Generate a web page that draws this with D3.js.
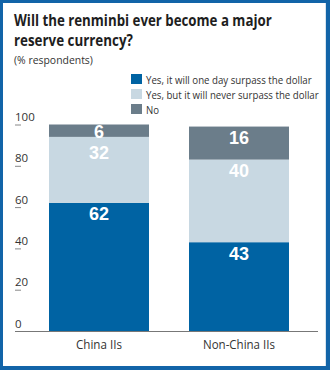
<!DOCTYPE html>
<html><head><meta charset="utf-8">
<script src="https://cdn.jsdelivr.net/npm/d3@7"></script>
<style>html,body{margin:0;padding:0;background:#fff;}svg{display:block;}</style>
</head><body>
<svg id="c" width="330" height="370"></svg>
<script>
const categories = ["China IIs", "Non-China IIs"];
const seriesNames = ["Yes, it will one day surpass the dollar", "Yes, but it will never surpass the dollar", "No"];
const surpass = [62, 43];
const neverSurpass = [32, 40];
const no = [6, 16];
const yTicks = [0, 20, 40, 60, 80, 100];
const colors = ["#0063a3", "#c8d8e2", "#6b7d8a"];

const svg = d3.select("#c");
const W = 330, H = 370;
svg.append("rect").attr("x",0).attr("y",0).attr("width",W).attr("height",H).attr("fill","#1264a8");
svg.append("rect").attr("x",3).attr("y",3).attr("width",323).attr("height",363).attr("fill","#fff");
svg.append("line").attr("x1",325.5).attr("x2",325.5).attr("y1",3).attr("y2",366).attr("stroke","#d8e4ee").attr("stroke-width",1);

const font = "'Open Sans', 'Noto Sans', sans-serif";
// place text at (x,y), horizontally condensed to target width w
function fitText(parent, x, y, w, anchor, str, attrs){
  const g = parent.append("g");
  const t = g.append("text").attr("x",0).attr("y",0).text(str);
  Object.entries(attrs).forEach(([k,v])=>t.attr(k,v));
  const nat = t.node().getComputedTextLength();
  const s = Math.min(1, w/nat);
  const dx = anchor==="middle" ? -nat*s/2 : 0;
  g.attr("transform",`translate(${x+dx},${y}) scale(${s},1)`);
  return t;
}

const titleAttrs = {"font-family":font,"font-weight":"bold","font-size":15.5,"fill":"#1e1e1e"};
fitText(svg,14,26,258,"start","Will the renminbi ever become a major",titleAttrs);
fitText(svg,14,46,119,"start","reserve currency?",titleAttrs);
fitText(svg,14,64,79,"start","(% respondents)",{"font-family":font,"font-size":11.5,"fill":"#333"});

// legend
const legendWidths = [166, 173, 13];
const lg = svg.append("g");
seriesNames.forEach((s,i)=>{
  const yy = 74 + i*15;
  lg.append("rect").attr("x",131).attr("y",yy).attr("width",11).attr("height",10).attr("fill",colors[i]);
  fitText(lg,146,yy+9.5,legendWidths[i],"start",s,{"font-family":font,"font-size":11.5,"fill":"#333"});
});

const y = d3.scaleLinear().domain([0,100]).range([331,124.5]);
const x = d3.scaleBand().domain(categories).range([19,319]).paddingInner(2/7).paddingOuter(3/14);

// y axis ticks
const ag = svg.append("g");
yTicks.forEach(t=>{
  if (t>0) ag.append("line").attr("x1",15).attr("x2",21).attr("y1",y(t)+0.5).attr("y2",y(t)+0.5).attr("stroke","#888").attr("stroke-width",1);
  ag.append("text").attr("x",15).attr("y",y(t)-3.5).attr("font-family",font).attr("font-size",11.5).attr("fill","#333").text(d3.format("d")(t));
});

// stacked data
const rows = categories.map((c,i)=>({cat:c, s0:surpass[i], s1:neverSurpass[i], s2:no[i]}));
const stack = d3.stack().keys(["s0","s1","s2"]);
const series = stack(rows);

const bars = svg.append("g");
series.forEach((ser,si)=>{
  bars.selectAll(null).data(ser).enter().append("rect")
    .attr("x",d=>x(d.data.cat)).attr("width",x.bandwidth())
    .attr("y",d=>y(d[1])).attr("height",d=>y(d[0])-y(d[1]))
    .attr("fill",colors[si]);
});

// labels, top-down with simple collision avoidance
categories.forEach((c,ci)=>{
  let prev = -Infinity;
  for (let si=series.length-1; si>=0; si--){
    const d = series[si][ci];
    const top = y(d[1]), h = y(d[0])-y(d[1]);
    let base = top + Math.min(17.5, h+1);
    base = Math.max(base, prev+21);
    prev = base;
    svg.append("text").attr("x",x(c)+x.bandwidth()/2).attr("y",base).attr("text-anchor","middle")
      .attr("font-family","'Liberation Sans', Arial, sans-serif").attr("font-weight","bold").attr("font-size",18)
      .attr("fill","#fff").text(d.data["s"+si]);
  }
});

// baseline
svg.append("line").attr("x1",15).attr("x2",318).attr("y1",331.5).attr("y2",331.5).attr("stroke","#777").attr("stroke-width",1);

// x axis labels
const catWidths = [46, 72];
categories.forEach((c,i)=>{
  fitText(svg,x(c)+x.bandwidth()/2,349,catWidths[i],"middle",c,{"font-family":font,"font-size":12,"fill":"#333"});
});
</script>
</body></html>
